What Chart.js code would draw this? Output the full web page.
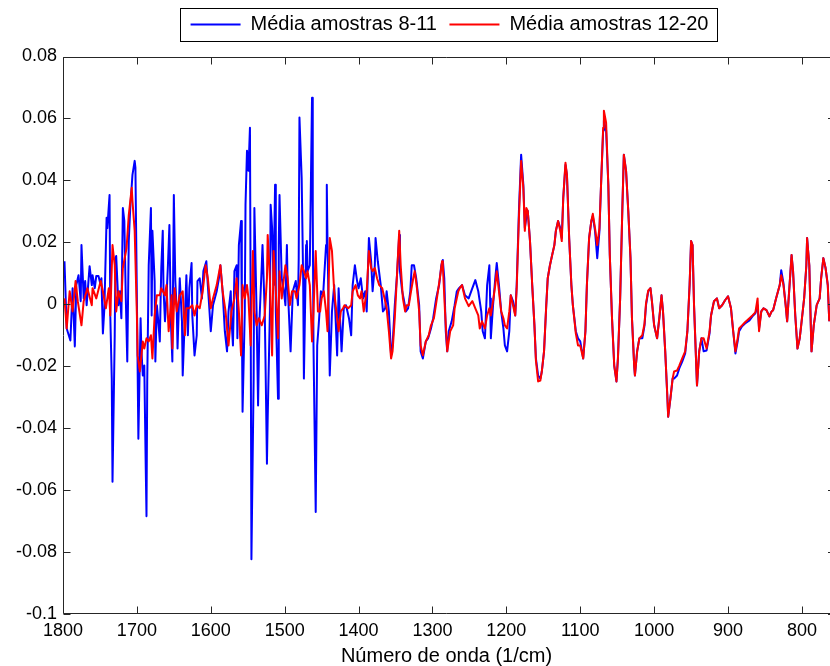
<!DOCTYPE html>
<html>
<head>
<meta charset="utf-8">
<title>Média amostras</title>
<script src="https://cdn.jsdelivr.net/npm/chart.js@4.4.1/dist/chart.umd.min.js"></script>
<style>
  html, body { margin: 0; padding: 0; background: #fff; }
  canvas { display: block; }
</style>
</head>
<body>
<canvas id="grafico" width="830" height="666"></canvas>
<script>
// espectros médios (número de onda em 1/cm, valor)
const azulNumOnda = [1798,1795,1790,1787,1784,1782,1779,1776,1775,1772,1770,1768,1764,1761,1760,1757,1755,1752,1749,1748,1746,1744,1741,1740,1737,1736,1734,1733,1730,1729,1728,1725,1723,1721,1719,1717,1715,1713,1711,1709,1706,1703,1702,1700,1699,1698,1695,1694,1692,1690,1688,1687,1686,1684,1681,1680,1679,1676,1675,1673,1671,1669,1667,1665,1664,1662,1660,1658,1656,1654,1652,1650,1648,1646,1645,1642,1639,1638,1635,1633,1631,1629,1626,1625,1622,1619,1618,1615,1612,1610,1606,1604,1600,1597,1592,1589,1587,1584,1581,1578,1576,1573,1572,1570,1568,1565,1564,1562,1559,1558,1557,1554,1553,1551,1549,1547,1546,1545,1542,1541,1538,1536,1534,1531,1530,1527,1526,1524,1523,1520,1519,1517,1515,1513,1512,1509,1508,1507,1504,1501,1499,1497,1496,1492,1489,1485,1482,1481,1480,1477,1475,1474,1471,1470,1469,1466,1463,1462,1461,1458,1456,1454,1451,1448,1444,1443,1442,1439,1436,1433,1429,1427,1423,1420,1417,1413,1410,1408,1405,1402,1400,1397,1394,1391,1389,1386,1383,1381,1378,1377,1374,1370,1367,1364,1362,1359,1356,1354,1351,1348,1345,1344,1341,1339,1336,1333,1330,1328,1325,1322,1318,1316,1313,1309,1306,1302,1299,1295,1291,1288,1286,1284,1282,1280,1278,1274,1270,1267,1264,1260,1256,1251,1246,1242,1238,1234,1232,1229,1226,1223,1222,1221,1218,1215,1213,1210,1207,1204,1202,1199,1196,1194,1191,1188,1186,1183,1180,1177,1175,1173,1171,1168,1165,1162,1160,1157,1154,1152,1149,1146,1144,1141,1138,1135,1133,1130,1127,1125,1123,1120,1118,1115,1112,1110,1106,1103,1100,1096,1093,1091,1088,1085,1083,1080,1077,1074,1072,1069,1068,1065,1062,1060,1057,1054,1051,1049,1046,1043,1041,1038,1035,1032,1030,1027,1026,1023,1020,1016,1013,1011,1008,1005,1003,1000,996,993,990,988,985,982,981,978,975,973,969,966,962,958,955,952,950,948,946,943,942,939,936,933,929,925,923,919,915,912,908,904,900,896,893,890,887,885,881,877,871,867,863,860,858,855,852,848,844,841,839,835,830,828,825,822,820,817,814,812,809,806,803,801,797,794,793,790,788,787,784,780,776,774,771,768,765,763];
const azulValores = [0.0139,-0.0078,-0.0117,0.0052,-0.0136,0.0062,0.0094,0.0010,0.0191,0.0019,0.0075,-0.0003,0.0123,0.0062,0.0094,0.0052,0.0091,0.0091,0.0062,0.0084,-0.0094,-0.0013,0.0279,0.0246,0.0353,-0.0036,-0.0240,-0.0573,-0.0100,0.0149,0.0156,-0.0003,0.0042,-0.0045,0.0311,0.0269,0.0019,-0.0185,0.0204,0.0311,0.0418,0.0463,0.0441,0.0019,-0.0207,-0.0434,-0.0045,-0.0143,-0.0230,-0.0198,-0.0531,-0.0684,-0.0249,0.0126,0.0311,-0.0036,0.0237,0.0075,-0.0185,-0.0003,-0.0055,-0.0120,0.0117,0.0237,0.0052,-0.0055,0.0019,0.0126,0.0256,-0.0055,-0.0185,0.0353,0.0075,-0.0023,-0.0143,0.0084,-0.0055,-0.0230,-0.0036,0.0094,-0.0100,0.0052,0.0133,-0.0036,-0.0165,-0.0100,0.0075,0.0084,0.0019,0.0107,0.0139,0.0062,-0.0087,-0.0003,0.0042,0.0084,0.0126,0.0042,-0.0087,-0.0152,-0.0023,0.0042,-0.0045,-0.0133,0.0107,0.0126,-0.0110,0.0191,0.0269,-0.0023,-0.0347,-0.0023,0.0321,0.0496,0.0431,0.0570,-0.0023,-0.0823,-0.0240,0.0311,-0.0023,-0.0327,-0.0045,0.0126,0.0191,-0.0023,-0.0175,-0.0515,-0.0369,-0.0023,0.0321,0.0246,0.0062,0.0386,-0.0023,-0.0305,0.0191,0.0353,0.0084,0.0042,-0.0003,0.0191,0.0062,-0.0152,0.0042,0.0075,-0.0003,0.0149,0.0603,0.0408,0.0084,-0.0240,0.0191,0.0204,0.0107,0.0126,0.0667,0.0301,-0.0133,-0.0671,-0.0133,-0.0068,0.0042,0.0029,0.0191,0.0386,0.0191,-0.0230,-0.0023,0.0062,-0.0165,0.0052,-0.0152,-0.0013,-0.0003,-0.0045,-0.0100,0.0062,0.0126,0.0075,0.0052,0.0084,0.0019,0.0042,-0.0023,0.0214,0.0139,0.0042,0.0126,0.0214,0.0139,0.0062,-0.0023,-0.0013,0.0042,-0.0023,-0.0165,-0.0133,-0.0003,0.0094,0.0224,0.0107,0.0042,0.0019,-0.0023,-0.0013,0.0042,0.0126,0.0126,0.0084,-0.0003,-0.0152,-0.0175,-0.0120,-0.0110,-0.0078,-0.0045,0.0019,0.0062,0.0126,0.0143,0.0084,-0.0087,-0.0152,-0.0087,-0.0055,-0.0003,0.0042,0.0052,0.0062,0.0029,0.0019,0.0052,0.0078,0.0042,-0.0023,-0.0087,-0.0110,0.0062,0.0126,0.0019,-0.0110,-0.0003,0.0084,0.0133,0.0062,-0.0023,-0.0078,-0.0133,-0.0152,-0.0087,0.0029,0.0010,-0.0036,0.0062,0.0301,0.0483,0.0386,0.0246,0.0279,0.0301,0.0204,0.0062,-0.0068,-0.0175,-0.0230,-0.0240,-0.0217,-0.0152,-0.0003,0.0084,0.0126,0.0159,0.0191,0.0237,0.0269,0.0246,0.0214,0.0343,0.0450,0.0418,0.0214,0.0062,-0.0003,-0.0087,-0.0110,-0.0120,-0.0175,-0.0087,0.0062,0.0214,0.0269,0.0285,0.0237,0.0149,0.0237,0.0376,0.0561,0.0593,0.0561,0.0386,0.0159,-0.0045,-0.0198,-0.0249,-0.0175,0.0019,0.0311,0.0483,0.0431,0.0301,0.0149,-0.0045,-0.0198,-0.0230,-0.0152,-0.0110,-0.0110,-0.0068,-0.0003,0.0042,0.0052,0.0010,-0.0068,-0.0110,-0.0045,0.0029,-0.0023,-0.0152,-0.0305,-0.0363,-0.0305,-0.0240,-0.0240,-0.0230,-0.0207,-0.0185,-0.0159,-0.0087,0.0062,0.0204,0.0191,-0.0003,-0.0198,-0.0262,-0.0152,-0.0110,-0.0152,-0.0149,-0.0094,-0.0036,0.0010,0.0019,-0.0013,-0.0003,0.0013,0.0026,-0.0013,-0.0087,-0.0159,-0.0120,-0.0087,-0.0071,-0.0062,-0.0052,-0.0039,-0.0029,-0.0003,-0.0078,-0.0023,-0.0013,-0.0019,-0.0039,-0.0023,-0.0019,0.0019,0.0062,0.0110,0.0068,-0.0003,-0.0055,0.0052,0.0159,0.0107,-0.0036,-0.0143,-0.0110,-0.0068,0.0019,0.0126,0.0214,0.0126,-0.0068,-0.0152,-0.0068,-0.0003,0.0019,0.0084,0.0149,0.0117,0.0062,-0.0055];

const vermelhoNumOnda = [1798,1795,1791,1787,1783,1780,1775,1772,1767,1761,1760,1755,1749,1746,1742,1738,1736,1733,1730,1728,1725,1721,1719,1714,1711,1707,1706,1703,1700,1699,1696,1692,1690,1687,1684,1681,1679,1676,1673,1669,1667,1662,1660,1657,1653,1652,1649,1646,1642,1638,1635,1633,1629,1625,1622,1619,1615,1611,1607,1604,1600,1597,1592,1587,1584,1580,1576,1572,1568,1565,1562,1559,1557,1554,1551,1549,1546,1543,1541,1538,1535,1531,1527,1524,1523,1520,1517,1515,1512,1509,1507,1504,1501,1499,1496,1493,1490,1486,1484,1480,1477,1474,1471,1469,1466,1463,1461,1458,1455,1452,1450,1447,1444,1442,1439,1436,1433,1431,1427,1424,1421,1419,1414,1410,1408,1404,1401,1398,1396,1393,1389,1386,1383,1381,1378,1375,1372,1368,1364,1362,1359,1356,1354,1351,1348,1345,1343,1340,1337,1335,1332,1329,1326,1324,1321,1318,1316,1313,1309,1305,1302,1298,1294,1290,1287,1286,1283,1280,1276,1272,1270,1265,1263,1260,1256,1251,1246,1242,1238,1236,1233,1229,1226,1223,1221,1218,1215,1213,1210,1207,1204,1202,1199,1196,1194,1191,1188,1186,1183,1180,1177,1175,1173,1171,1168,1165,1162,1160,1157,1154,1152,1149,1146,1144,1141,1138,1135,1133,1130,1127,1125,1123,1120,1118,1115,1112,1110,1106,1103,1100,1096,1093,1091,1088,1085,1083,1080,1077,1074,1072,1069,1068,1065,1062,1060,1057,1054,1051,1049,1046,1043,1041,1038,1035,1032,1030,1027,1026,1023,1020,1016,1013,1011,1008,1005,1003,1000,996,993,990,988,985,982,981,978,975,973,969,966,962,958,955,952,950,948,946,943,942,939,936,933,929,925,923,919,915,912,908,904,900,896,893,890,887,885,881,877,871,867,863,860,858,855,852,848,844,841,839,835,830,828,825,822,820,817,814,812,809,806,803,801,797,794,793,790,788,787,784,780,776,774,771,768,765,763];
const vermelhoValores = [0.0019,-0.0078,0.0042,-0.0023,0.0075,0.0010,-0.0068,0.0010,0.0052,-0.0003,0.0052,0.0019,0.0075,0.0042,-0.0013,0.0052,-0.0036,0.0191,0.0126,-0.0023,0.0042,0.0010,0.0117,0.0181,0.0288,0.0376,0.0334,0.0237,-0.0036,-0.0165,-0.0217,-0.0120,-0.0143,-0.0110,-0.0120,-0.0100,-0.0175,-0.0036,0.0029,0.0029,0.0052,0.0029,0.0062,-0.0087,0.0029,-0.0143,0.0052,-0.0023,0.0029,0.0042,-0.0100,-0.0013,-0.0013,-0.0003,-0.0036,-0.0003,-0.0013,0.0042,0.0126,0.0084,-0.0013,0.0019,0.0062,0.0126,0.0042,-0.0023,-0.0133,-0.0023,0.0019,0.0084,-0.0023,-0.0165,0.0062,0.0019,0.0062,0.0019,-0.0133,0.0172,-0.0023,-0.0068,-0.0045,-0.0068,-0.0036,0.0084,0.0224,0.0084,-0.0165,0.0172,0.0042,-0.0110,0.0107,0.0019,0.0084,0.0126,0.0084,-0.0003,0.0042,0.0042,0.0019,0.0062,0.0126,0.0107,0.0084,0.0107,0.0062,-0.0120,-0.0023,0.0172,-0.0023,-0.0023,0.0019,0.0042,-0.0023,-0.0087,0.0214,0.0172,0.0042,-0.0003,-0.0087,-0.0023,-0.0013,-0.0003,-0.0013,-0.0003,0.0042,0.0062,0.0029,0.0019,0.0042,-0.0023,0.0042,0.0172,0.0117,0.0107,0.0117,0.0084,0.0062,0.0052,0.0010,-0.0013,-0.0087,-0.0175,-0.0152,-0.0045,0.0094,0.0237,0.0126,0.0019,-0.0023,-0.0003,-0.0003,0.0042,0.0084,0.0107,0.0052,-0.0023,-0.0133,-0.0165,-0.0120,-0.0100,-0.0068,-0.0045,0.0019,0.0084,0.0139,0.0126,-0.0023,-0.0152,-0.0087,-0.0068,-0.0013,0.0042,0.0052,0.0062,0.0019,-0.0006,0.0010,-0.0013,-0.0036,-0.0078,-0.0055,-0.0078,-0.0036,-0.0013,-0.0036,0.0010,0.0062,0.0107,0.0042,-0.0023,-0.0045,-0.0068,-0.0078,-0.0023,0.0029,-0.0003,-0.0036,0.0052,0.0279,0.0463,0.0376,0.0237,0.0311,0.0301,0.0204,0.0062,-0.0068,-0.0181,-0.0249,-0.0246,-0.0217,-0.0152,-0.0003,0.0084,0.0126,0.0159,0.0191,0.0237,0.0269,0.0237,0.0204,0.0343,0.0457,0.0418,0.0214,0.0062,-0.0003,-0.0094,-0.0133,-0.0133,-0.0175,-0.0087,0.0062,0.0214,0.0269,0.0292,0.0246,0.0191,0.0246,0.0376,0.0570,0.0625,0.0586,0.0386,0.0159,-0.0045,-0.0198,-0.0249,-0.0175,0.0019,0.0311,0.0483,0.0431,0.0301,0.0149,-0.0045,-0.0198,-0.0230,-0.0152,-0.0110,-0.0100,-0.0062,0.0003,0.0045,0.0052,0.0010,-0.0068,-0.0110,-0.0045,0.0029,-0.0023,-0.0152,-0.0305,-0.0363,-0.0305,-0.0240,-0.0217,-0.0214,-0.0198,-0.0175,-0.0152,-0.0087,0.0062,0.0204,0.0191,-0.0003,-0.0198,-0.0262,-0.0152,-0.0110,-0.0110,-0.0143,-0.0087,-0.0036,0.0010,0.0019,-0.0013,-0.0003,0.0013,0.0026,-0.0013,-0.0087,-0.0152,-0.0110,-0.0078,-0.0068,-0.0058,-0.0045,-0.0036,-0.0026,0.0019,-0.0087,-0.0023,-0.0013,-0.0019,-0.0039,-0.0023,-0.0019,0.0019,0.0062,0.0094,0.0062,-0.0003,-0.0055,0.0052,0.0159,0.0107,-0.0036,-0.0143,-0.0110,-0.0068,0.0019,0.0126,0.0214,0.0126,-0.0068,-0.0152,-0.0068,-0.0003,0.0019,0.0084,0.0149,0.0117,0.0062,-0.0055];

// marcas dos eixos
const marcasX = [1800, 1700, 1600, 1500, 1400, 1300, 1200, 1100, 1000, 900, 800];
const marcasY = [0.08, 0.06, 0.04, 0.02, 0, -0.02, -0.04, -0.06, -0.08, -0.1];

Chart.defaults.font.family = "'Liberation Sans', Arial, Helvetica, sans-serif";
Chart.defaults.color = '#000';

function pares(numOnda, valores) {
  return numOnda.map(function (w, i) { return { x: w, y: valores[i] }; });
}

// caixa do gráfico com marcas para dentro e moldura da legenda
const moldura = {
  id: 'moldura',
  afterLayout: function (chart) {
    const lg = chart.legend;
    const a = chart.chartArea;
    const dx = (a.left + a.right) / 2 - (lg.left + lg.right) / 2 + 3;
    lg.left += dx;
    lg.right += dx;
    lg.top -= 12;
    lg.bottom -= 12;
  },
  afterDraw: function (chart) {
    const ctx = chart.ctx;
    const a = chart.chartArea;
    const sx = chart.scales.x, sy = chart.scales.y;
    const tam = 7;
    const esqX = Math.round(a.left) + 0.5, topoY = Math.round(a.top) + 0.5;
    const baseY = Math.round(a.bottom) - 0.5;
    ctx.save();
    ctx.strokeStyle = '#262626';
    ctx.lineWidth = 1;
    ctx.beginPath();
    ctx.moveTo(a.right, topoY); ctx.lineTo(esqX, topoY);
    ctx.lineTo(esqX, baseY); ctx.lineTo(a.right, baseY);
    marcasX.forEach(function (v) {
      const px = Math.round(sx.getPixelForValue(v)) + 0.5;
      ctx.moveTo(px, baseY); ctx.lineTo(px, baseY - tam);
      ctx.moveTo(px, topoY); ctx.lineTo(px, topoY + tam);
    });
    marcasY.forEach(function (v) {
      const py = Math.round(sy.getPixelForValue(v)) + 0.5;
      ctx.moveTo(esqX, py); ctx.lineTo(esqX + tam, py);
      ctx.moveTo(a.right, py); ctx.lineTo(a.right - 2, py);
    });
    ctx.stroke();

    // borda da legenda
    const caixas = chart.legend.legendHitBoxes;
    if (caixas && caixas.length) {
      const esq = Math.min.apply(null, caixas.map(function (c) { return c.left; }));
      const dir = Math.max.apply(null, caixas.map(function (c) { return c.left + c.width; }));
      const meio = caixas[0].top + caixas[0].height / 2;
      ctx.strokeStyle = '#000';
      ctx.strokeRect(Math.round(esq - 11) + 0.5, Math.round(meio - 17) + 0.5,
        Math.round(dir - esq + 19), 33);
    }
    ctx.restore();
  }
};

new Chart(document.getElementById('grafico'), {
  type: 'line',
  data: {
    datasets: [
      {
        label: 'Média amostras 8-11',
        data: pares(azulNumOnda, azulValores),
        borderColor: '#0000ff',
        backgroundColor: '#0000ff',
        borderWidth: 2,
        order: 2
      },
      {
        label: 'Média amostras 12-20',
        data: pares(vermelhoNumOnda, vermelhoValores),
        borderColor: '#ff0000',
        backgroundColor: '#ff0000',
        borderWidth: 2,
        order: 1
      }
    ]
  },
  options: {
    responsive: false,
    animation: false,
    parsing: false,
    elements: {
      point: { radius: 0 },
      line: { tension: 0, borderJoinStyle: 'round' }
    },
    layout: { padding: { top: 14, right: 0, bottom: 0, left: 0 } },
    plugins: {
      tooltip: { enabled: false },
      legend: {
        position: 'top',
        align: 'center',
        labels: {
          usePointStyle: true,
          pointStyle: 'line',
          pointStyleWidth: 50,
          padding: 12.5,
          font: { size: 20 },
          color: '#000',
          sort: function (a, b) { return a.datasetIndex - b.datasetIndex; }
        }
      }
    },
    scales: {
      x: {
        type: 'linear',
        reverse: true,
        min: 762,
        max: 1800,
        grid: { display: false, drawTicks: false },
        border: { display: false },
        afterBuildTicks: function (scale) {
          scale.ticks = marcasX.map(function (v) { return { value: v }; });
        },
        afterFit: function (scale) { scale.height = 52; },
        ticks: {
          autoSkip: false,
          maxRotation: 0,
          padding: 6,
          font: { size: 18 },
          callback: function (v) { return String(v); }
        },
        title: {
          display: true,
          text: 'Número de onda (1/cm)',
          font: { size: 20, lineHeight: 1 },
          padding: { top: 0, bottom: 0 }
        }
      },
      y: {
        type: 'linear',
        min: -0.1,
        max: 0.08,
        grid: { display: false, drawTicks: false },
        border: { display: false },
        afterBuildTicks: function (scale) {
          scale.ticks = marcasY.map(function (v) { return { value: v }; });
        },
        afterFit: function (scale) { scale.width = 63; },
        ticks: {
          autoSkip: false,
          padding: 6,
          font: { size: 18 },
          callback: function (v) { return String(Math.round(v * 100) / 100); }
        }
      }
    }
  },
  plugins: [moldura]
});
</script>
</body>
</html>
